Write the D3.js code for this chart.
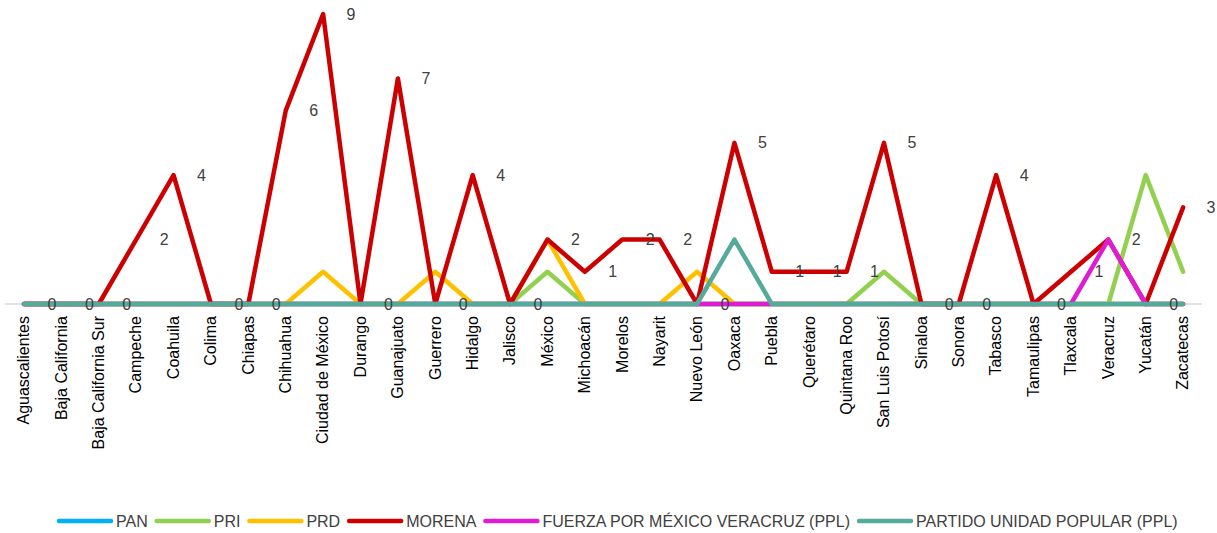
<!DOCTYPE html>
<html>
<head>
<meta charset="utf-8">
<script src="https://cdn.jsdelivr.net/npm/d3@7"></script>
<style>
  body { margin: 0; background: #ffffff; }
  svg text { font-family: "Liberation Sans", Arial, sans-serif; }
</style>
</head>
<body>
<div id="chart"></div>
<script>
// datos
var estados = ["Aguascalientes", "Baja California", "Baja California Sur", "Campeche", "Coahuila", "Colima",
  "Chiapas", "Chihuahua", "Ciudad de México", "Durango", "Guanajuato", "Guerrero", "Hidalgo", "Jalisco",
  "México", "Michoacán", "Morelos", "Nayarit", "Nuevo León", "Oaxaca", "Puebla", "Querétaro",
  "Quintana Roo", "San Luis Potosí", "Sinaloa", "Sonora", "Tabasco", "Tamaulipas", "Tlaxcala",
  "Veracruz", "Yucatán", "Zacatecas"];

var pan    = [0,0,0,0,0,0,0,0,0,0,0,0,0,0,0,0,0,0,0,0,0,0,0,0,0,0,0,0,0,0,0,0];
var pri    = [0,0,0,0,0,0,0,0,0,0,0,0,0,0,1,0,0,0,0,0,0,0,0,1,0,0,0,0,0,0,4,1];
var prd    = [0,0,0,0,0,0,0,0,1,0,0,1,0,0,2,0,0,0,1,0,0,0,0,0,0,0,0,0,0,0,0,0];
var morena = [0,0,0,2,4,0,0,6,9,0,7,0,4,0,2,1,2,2,0,5,1,1,1,5,0,0,4,0,1,2,0,3];
var fxm    = [0,0,0,0,0,0,0,0,0,0,0,0,0,0,0,0,0,0,0,0,0,0,0,0,0,0,0,0,0,2,0,0];
var pup    = [0,0,0,0,0,0,0,0,0,0,0,0,0,0,0,0,0,0,0,2,0,0,0,0,0,0,0,0,0,0,0,0];

var nombres = ["PAN", "PRI", "PRD", "MORENA", "FUERZA POR MÉXICO VERACRUZ (PPL)", "PARTIDO UNIDAD POPULAR (PPL)"];
var colores = ["#00B0F0", "#92D050", "#FFC000", "#CC0000", "#E01CD2", "#55AB9B"];

var series = [pan, pri, prd, morena, fxm, pup].map(function(v, i) {
  return {name: nombres[i], color: colores[i], values: v};
});

// config
var width = 1217, height = 533;
var baseY = 304, topY = 14;

var svg = d3.select("#chart").append("svg")
  .attr("width", width)
  .attr("height", height);

var x = d3.scalePoint()
  .domain(estados)
  .range([5.3, 1201.8])
  .padding(0.5);

var y = d3.scaleLinear()
  .domain([0, 9])
  .range([baseY, topY]);

// linea base
svg.append("line")
  .attr("x1", x.range()[0])
  .attr("x2", x.range()[1])
  .attr("y1", y(0))
  .attr("y2", y(0))
  .attr("stroke", "#D9D9D9")
  .attr("stroke-width", 1.5);

// eje x
var xAxis = svg.append("g")
  .attr("transform", "translate(0," + (baseY + 12) + ")")
  .call(d3.axisBottom(x).tickSize(0).tickPadding(0));
xAxis.select(".domain").remove();
xAxis.selectAll("text")
  .attr("transform", "rotate(-90)")
  .attr("x", 0)
  .attr("y", 0)
  .attr("dy", "0.3em")
  .style("text-anchor", "end")
  .attr("fill", "#000000")
  .style("font-size", "16px")
  .style("font-family", "'Liberation Sans', Arial, sans-serif");

var line = d3.line()
  .x(function(d, i) { return x(estados[i]); })
  .y(function(d) { return y(d); });

svg.selectAll(".serie")
  .data(series)
  .enter()
  .append("path")
  .attr("class", "serie")
  .attr("d", function(d) { return line(d.values); })
  .attr("fill", "none")
  .attr("stroke", function(d) { return d.color; })
  .attr("stroke-width", 4.5)
  .attr("stroke-linejoin", "round")
  .attr("stroke-linecap", "round");

// etiquetas de MORENA
svg.selectAll(".etiqueta")
  .data(morena)
  .enter()
  .append("text")
  .attr("class", "etiqueta")
  .attr("x", function(d, i) { return x(estados[i]) + 23.5; })
  .attr("y", function(d) { return y(d); })
  .attr("dy", "0.35em")
  .attr("fill", "#404040")
  .style("font-size", "16px")
  .text(function(d) { return d; });

// leyenda
var legend = svg.append("g").attr("transform", "translate(0,521)");
var lx = 57;
series.forEach(function(s) {
  legend.append("line")
    .attr("x1", lx + 2)
    .attr("x2", lx + 54)
    .attr("stroke", s.color)
    .attr("stroke-width", 4.5)
    .attr("stroke-linecap", "round");
  var t = legend.append("text")
    .attr("x", lx + 59)
    .attr("dy", "0.35em")
    .attr("fill", "#404040")
    .style("font-size", "16px")
    .text(s.name);
  lx = lx + 59 + t.node().getComputedTextLength() + 7;
});
</script>
</body>
</html>
